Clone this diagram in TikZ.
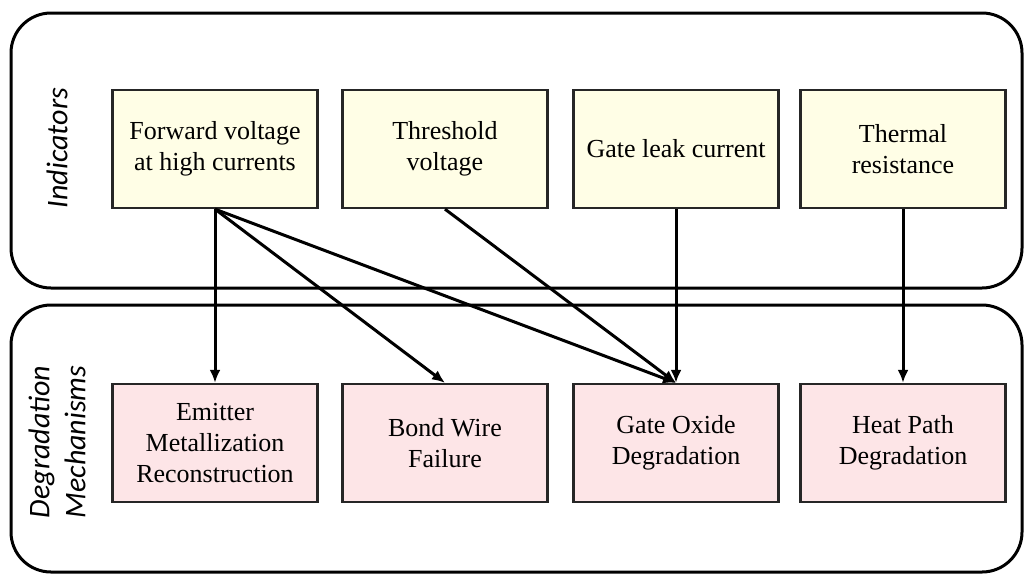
\documentclass[tikz,border=0pt]{standalone}
\usepackage{fontspec}
\setmainfont{Liberation Serif}
\newfontfamily\grouplabelfont{Carlito}
\usetikzlibrary{arrows.meta}

\definecolor{indyellow}{RGB}{255,254,230}
\definecolor{mechpink}{RGB}{253,229,231}

\begin{document}
\begin{tikzpicture}[x=1pt,y=-1pt,
  frame/.style={draw=black,line width=3pt,rounded corners=40pt},
  indicator/.style={draw=black!85,line width=2.3pt,fill=indyellow,
    minimum width=205pt,minimum height=118pt,align=center,
    font=\fontsize{26}{31}\selectfont},
  mechanism/.style={indicator,fill=mechpink},
  grouplabel/.style={rotate=90,align=center,
    font=\grouplabelfont\itshape\fontsize{30}{36}\selectfont},
  link/.style={line width=3pt,-{Latex[length=13pt,width=11pt]}}
  ]
  \useasboundingbox (0,0) rectangle (1024,576);
  % groups
  \draw[frame] (11,13) rectangle (1022,288);
  \draw[frame] (11,305) rectangle (1022,572);
  \node[grouplabel] (indlbl) at (57,148) {Indicators};
  \node[grouplabel] (mechlbl) at (57,442) {Degradation\\Mechanisms};
  % indicators
  \node[indicator] (fwd) at (215,149) {Forward voltage\\at high currents};
  \node[indicator] (vth) at (445,149) {Threshold\\voltage};
  \node[indicator] (gleak) at (676,149) {Gate leak current};
  \node[indicator] (rth) at (903,149) {Thermal\\resistance};
  % mechanisms
  \node[mechanism] (emr) at (215,443) {Emitter\\Metallization\\Reconstruction};
  \node[mechanism] (bwf) at (445,443) {Bond Wire\\Failure};
  \node[mechanism] (gox) at (676,443) {Gate Oxide\\Degradation};
  \node[mechanism] (hpd) at (903,443) {Heat Path\\Degradation};
  % links
  \draw[link] (fwd.south) -- (emr.north);
  \draw[link] (fwd.south) -- (bwf.north);
  \draw[link] (fwd.south) -- (gox.north);
  \draw[link] (vth.south) -- (gox.north);
  \draw[link] (gleak.south) -- (gox.north);
  \draw[link] (rth.south) -- (hpd.north);
\end{tikzpicture}
\end{document}
